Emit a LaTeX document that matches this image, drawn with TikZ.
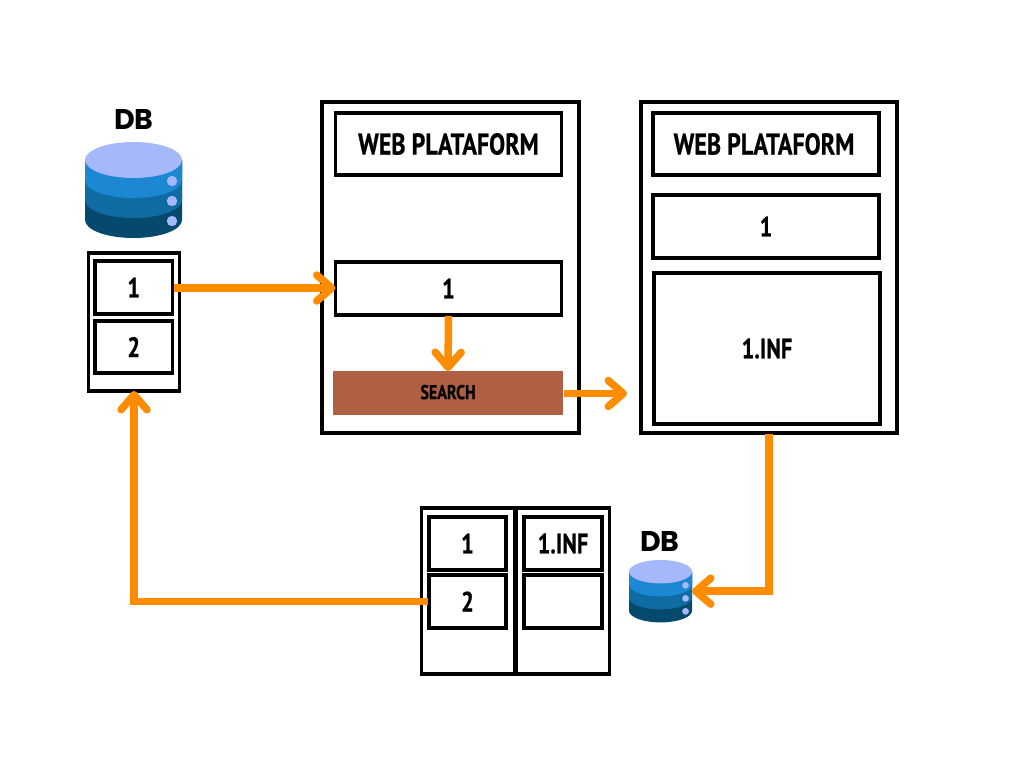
\documentclass[tikz,border=0pt]{standalone}
\usepackage{fontspec}
\setmainfont{PT Sans}
\newfontfamily\narrowfont[FakeStretch=0.8,FakeBold=0.6]{PT Sans Bold}
\newfontfamily\dbfont{Poppins Bold}
\usetikzlibrary{arrows.meta}
\definecolor{flow}{HTML}{FF8C00}
\definecolor{searchfill}{HTML}{B06042}
\definecolor{dbtop}{HTML}{A5B8FC}
\definecolor{dbone}{HTML}{1C87D2}
\definecolor{dbtwo}{HTML}{0F6CA3}
\definecolor{dbthree}{HTML}{054A6D}
\pgfdeclarearrow{
  name=Chevron,
  setup code={
    \pgfarrowssettipend{3.75pt}
    \pgfarrowssetlineend{-2pt}
    \pgfarrowssetvisualbackend{-15pt}
    \pgfarrowssetbackend{-18pt}
  },
  drawing code={
    \pgfsetdash{}{0pt}
    \pgfsetroundcap
    \pgfsetroundjoin
    \pgfpathmoveto{\pgfqpoint{-15pt}{13pt}}
    \pgfpathlineto{\pgfpointorigin}
    \pgfpathlineto{\pgfqpoint{-15pt}{-13pt}}
    \pgfusepathqstroke
  }
}
\tikzset{
  x=1pt,y=-1pt,
  panel/.style={draw=black,line width=3.8pt,fill=white,outer sep=0pt,inner sep=0pt,line join=miter},
  label big/.style={font=\narrowfont\fontsize{30}{30}\selectfont},
  label mid/.style={font=\narrowfont\fontsize{28}{28}\selectfont},
  label small/.style={font=\narrowfont\fontsize{20}{20}\selectfont},
  dblabel/.style={font=\dbfont\fontsize{28.5}{28.5}\selectfont,inner sep=0pt},
  flowline/.style={draw=flow,line width=7.5pt,line cap=butt,line join=miter},
  flowarrow/.style={flowline,-{Chevron},shorten <=1pt},
}
% \dbicon{left}{top}{scale}{name}
\newcommand{\dbicon}[4]{%
  \begin{scope}[shift={(#1,#2)},scale=#3]
    \fill[dbthree] (0,18) -- (0,78) arc[start angle=180,end angle=0,x radius=48.5,y radius=18] -- (97,18) -- cycle;
    \fill[dbtwo] (0,18) -- (0,58) arc[start angle=180,end angle=0,x radius=48.5,y radius=18] -- (97,18) -- cycle;
    \fill[dbone] (0,18) -- (0,38) arc[start angle=180,end angle=0,x radius=48.5,y radius=18] -- (97,18) -- cycle;
    \fill[dbtop] (48.5,18) ellipse[x radius=48.5,y radius=18];
    \fill[dbtop] (87,39) circle[radius=5.2] (87,59) circle[radius=5.2] (87,79) circle[radius=5.2];
  \end{scope}%
  \coordinate (#4) at ({#1+48.5*#3},{#2+48*#3});
  \coordinate (#4 east) at ({#1+97*#3},{#2+48*#3});
}
\begin{document}
\begin{tikzpicture}
\useasboundingbox[fill=white] (0,0) rectangle (1024,768);

% --- left database
\node[dblabel] (dbtoplabel) at (134,119) {DB};
\dbicon{85}{142}{1}{dbleft}
\node[panel,minimum width=91pt,minimum height=138pt] (stack) at (134,322) {};
\node[panel,label mid,minimum width=77.5pt,minimum height=53pt] (sone) at (133.75,287.5) {1};
\node[panel,label mid,minimum width=77.5pt,minimum height=52pt] (stwo) at (133.75,347) {2};

% --- first web platform
\node[panel,minimum width=257pt,minimum height=331pt] (webA) at (450.5,267.5) {};
\node[panel,label big,minimum width=226pt,minimum height=62pt] (webAhead) at (448.5,144) {WEB PLATAFORM};
\node[panel,label mid,minimum width=226pt,minimum height=53pt] (webAone) at (448.5,288.5) {1};
\node[fill=searchfill,label small,minimum width=230pt,minimum height=44pt,inner sep=0pt,outer sep=0pt] (search) at (448,393) {\raisebox{2pt}{SEARCH}};

% --- second web platform
\node[panel,minimum width=256pt,minimum height=331pt] (webB) at (769,267.5) {};
\node[panel,label big,minimum width=226pt,minimum height=62pt] (webBhead) at (766,144) {\hspace{-4pt}WEB PLATAFORM};
\node[panel,label mid,minimum width=226pt,minimum height=63pt] (webBone) at (766,226.5) {1};
\node[panel,label mid,minimum width=226pt,minimum height=151pt] (webBinf) at (767,348.5) {1.INF};

% --- bottom tables
\node[panel,minimum width=93pt,minimum height=166pt] (tableA) at (468,591) {};
\node[panel,minimum width=93pt,minimum height=166pt] (tableB) at (563,591) {};
\node[panel,label mid,minimum width=77pt,minimum height=53pt] (aone) at (467.5,543.5) {1};
\node[panel,label mid,minimum width=77pt,minimum height=53pt] (atwo) at (467.5,601.5) {2};
\node[panel,label mid,minimum width=78pt,minimum height=53pt] (bone) at (563,543.5) {1.INF};
\node[panel,minimum width=78pt,minimum height=53pt] (btwo) at (563,601.5) {};

% --- bottom database
\node[dblabel] (dbbottomlabel) at (660,541) {DB};
\dbicon{629}{560}{0.65}{dbright}

% --- connectors
\coordinate (searchout) at (627,393.5);
\coordinate (soneout) at ([yshift=-0.5pt]sone.east);
\draw[flowarrow] (soneout) -- (soneout -| webAone.west);
\draw[flowarrow] (webAone.south) -- (search.north);
\draw[flowarrow] (search.east |- searchout) -- (searchout);
\draw[flowarrow] (webB.south) |- (dbright east);
\draw[flowarrow] (atwo.west) -| (stack.south);
\end{tikzpicture}
\end{document}
